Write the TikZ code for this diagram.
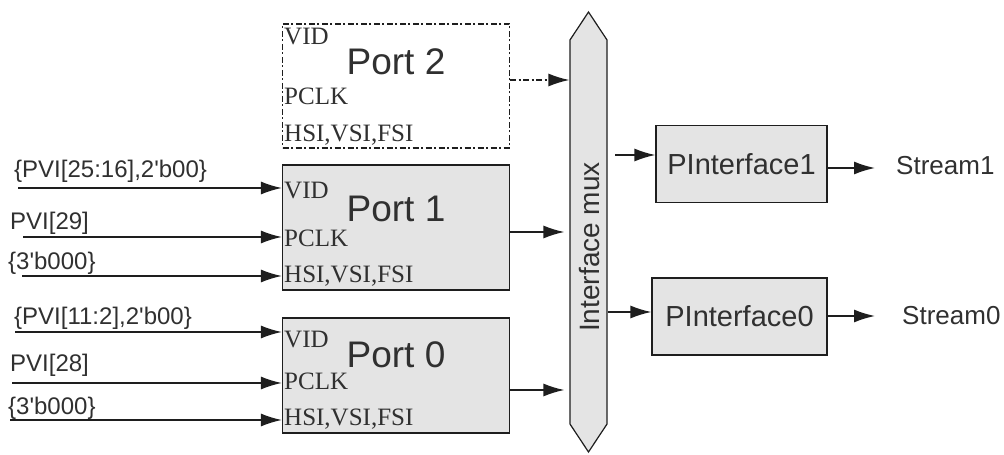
\documentclass[tikz,border=0pt]{standalone}
\usepackage{fontspec}
\setmainfont{Liberation Serif}
\setsansfont{Liberation Sans}
\usepackage{tikz}
\usetikzlibrary{arrows.meta,shapes.arrows}
\definecolor{cInk}{HTML}{1E1E1E}
\definecolor{cFill}{HTML}{E4E4E4}
\definecolor{cText}{HTML}{303030}
\tikzset{
  port/.style={draw=cInk,fill=cFill,line width=1.2pt,minimum width=227pt,inner sep=0pt},
  pin/.style={font=\rmfamily\fontsize{25}{25}\selectfont,text=cText,anchor=base west,inner sep=0pt},
  ptitle/.style={font=\sffamily\fontsize{37}{37}\selectfont,text=cText,anchor=base,inner sep=0pt},
  sig/.style={font=\sffamily\fontsize{24}{24}\selectfont,text=cText,anchor=base west,inner sep=0pt},
  ifbox/.style={draw=cInk,fill=cFill,line width=1.2pt,minimum height=77pt,font=\sffamily\fontsize{29}{29}\selectfont,text=cText},
  arr/.style={-{Latex[length=21pt,width=13pt]},line width=1.6pt,color=cInk},
}

\begin{document}
\begin{tikzpicture}[x=1pt,y=1pt]
    \useasboundingbox (0,0) rectangle (1004,455);
    % ports
    \node[port,fill=white,dash pattern=on 6pt off 2.5pt on 2pt off 2.5pt,minimum height=124pt] (p2) at (396,369) {};
    \node[port,minimum height=125pt] (p1) at (396,227.5) {};
    \node[port,minimum height=115pt] (p0) at (396,79.5) {};
    \node[ptitle] (t2) at (396,380) {Port 2};
    \node[ptitle] (t1) at (396,233) {Port 1};
    \node[ptitle] (t0) at (396,87) {Port 0};
    \node[pin] (v2) at (284,410) {VID};
    \node[pin] (c2) at (284,350) {PCLK};
    \node[pin] (h2) at (284,313) {HSI,VSI,FSI};
    \node[pin] (v1) at (284,256) {VID};
    \node[pin] (c1) at (284,208) {PCLK};
    \node[pin] (h1) at (284,172) {HSI,VSI,FSI};
    \node[pin] (v0) at (284,107) {VID};
    \node[pin] (c0) at (284,65) {PCLK};
    \node[pin] (h0) at (284,29) {HSI,VSI,FSI};
    % inputs
    \node[sig] (s1a) at (14,277) {\{PVI[25:16],2\textquotesingle b00\}};
    \node[sig] (s1b) at (10,225) {PVI[29]};
    \node[sig] (s1c) at (8,185) {\{3\textquotesingle b000\}};
    \node[sig] (s0a) at (14,130) {\{PVI[11:2],2\textquotesingle b00\}};
    \node[sig] (s0b) at (10,83) {PVI[28]};
    \node[sig] (s0c) at (8,40) {\{3\textquotesingle b000\}};
    \coordinate (i1a) at (18,267); \coordinate (i1b) at (23,218); \coordinate (i1c) at (22,179);
    \coordinate (i0a) at (15,123); \coordinate (i0b) at (12,72); \coordinate (i0c) at (10,35);
    \draw[arr] (i1a) -- (i1a -| p1.west); \draw[arr] (i1b) -- (i1b -| p1.west); \draw[arr] (i1c) -- (i1c -| p1.west);
    \draw[arr] (i0a) -- (i0a -| p0.west); \draw[arr] (i0b) -- (i0b -| p0.west); \draw[arr] (i0c) -- (i0c -| p0.west);
    % mux
    \node[double arrow,double arrow head extend=0pt,double arrow tip angle=67,rotate=90,draw=cInk,fill=cFill,line width=1.2pt,
      minimum height=440pt,minimum width=37pt,inner sep=0pt] (mux) at (588.5,223) {};
    \node[rotate=90,font=\sffamily\fontsize{28}{28}\selectfont,text=cText] (ml) at (589,208) {Interface mux};
    \draw[arr,dash pattern=on 6pt off 2.5pt on 2pt off 2.5pt] ([yshift=6pt]p2.east) -- ([yshift=6pt]p2.east -| mux.north);
    \draw[arr,shorten >=5pt] ([yshift=-4.5pt]p1.east) -- ([yshift=-4.5pt]p1.east -| mux.north);
    \draw[arr,shorten >=5pt] ([yshift=-14.5pt]p0.east) -- ([yshift=-14.5pt]p0.east -| mux.north);
    % interfaces
    \node[ifbox,minimum width=171pt] (pi1) at (741.5,291) {PInterface1};
    \node[ifbox,minimum width=175pt] (pi0) at (739.5,138.5) {PInterface0};
    \node[sig,font=\sffamily\fontsize{26}{26}\selectfont] (st1) at (896,280) {Stream1};
    \node[sig,font=\sffamily\fontsize{26}{26}\selectfont] (st0) at (902,130) {Stream0};
    \coordinate (m1) at (615,300);
    \draw[arr] (m1) -- (m1 -| pi1.west);
    \draw[arr] ([yshift=4.5pt]pi0.west -| mux.south) -- ([yshift=4.5pt]pi0.west);
    \draw[arr,shorten >=21pt] ([yshift=-4pt]pi1.east) -- ([yshift=-4pt]pi1.east -| st1.west);
    \draw[arr,shorten >=27pt] ([yshift=0.5pt]pi0.east) -- ([yshift=0.5pt]pi0.east -| st0.west);
  \end{tikzpicture}
\end{document}
